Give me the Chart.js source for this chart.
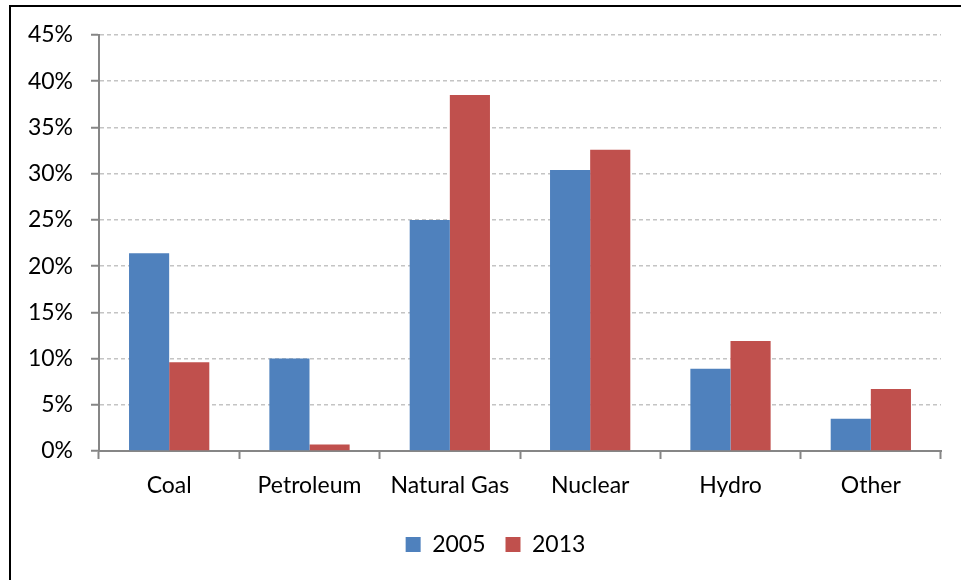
<!DOCTYPE html>
<html>
<head>
<meta charset="utf-8">
<script src="https://cdn.jsdelivr.net/npm/chart.js@4"></script>
<style>
  html, body { margin: 0; padding: 0; background: #fff; }
  #wrap { position: relative; width: 961px; height: 580px; overflow: hidden; }
  #frame { position: absolute; left: 9px; top: 5px; width: 1000px; height: 1000px; border: 2px solid #000; box-sizing: border-box; }
  canvas { position: absolute; left: 0; top: 0; }
</style>
</head>
<body>
<div id="wrap">
  <div id="frame"></div>
  <canvas id="fuentesChart" width="961" height="580"></canvas>
</div>
<script>
const categorias = ["Coal", "Petroleum", "Natural Gas", "Nuclear", "Hydro", "Other"];
const anos = ["2005", "2013"];
const valores2005 = [21.4, 10.0, 25.0, 30.4, 8.9, 3.5];
const valores2013 = [9.6, 0.7, 38.5, 32.6, 11.9, 6.7];
const cores = ["#4F81BD", "#C0504D"];

const fonte = { family: "Lato, 'Liberation Sans', sans-serif", size: 23 };

// the original legend sits a bit right of the canvas centre
const deslocaLegenda = {
  id: "deslocaLegenda",
  afterLayout(chart) {
    if (!chart.legend) return;
    chart.legend.left += 25;
    chart.legend.right += 25;
  },
};

const ctx = document.getElementById("fuentesChart");

new Chart(ctx.getContext("2d"), {
  type: "bar",
  data: {
    labels: categorias,
    datasets: [
      {
        label: anos[0],
        data: valores2005,
        backgroundColor: cores[0],
        categoryPercentage: 0.572,
        barPercentage: 1.0,
      },
      {
        label: anos[1],
        data: valores2013,
        backgroundColor: cores[1],
        categoryPercentage: 0.572,
        barPercentage: 1.0,
      },
    ],
  },
  options: {
    responsive: false,
    animation: false,
    layout: {
      padding: { top: 35, right: 20, left: 0, bottom: 14 },
    },
    scales: {
      x: {
        afterFit: (scale) => {
          scale.height = 62;
        },
        grid: {
          offset: true,
          drawOnChartArea: false,
          tickLength: 8,
          tickColor: "#868686",
          tickWidth: 2,
        },
        border: { color: "#868686", width: 2 },
        ticks: { color: "#000", font: fonte, padding: 13 },
      },
      y: {
        min: 0,
        max: 45,
        afterFit: (scale) => {
          scale.width = 99;
        },
        grid: {
          color: "#C4C4C4",
          lineWidth: 1.5,
          tickLength: 8,
          tickColor: "#868686",
          tickWidth: 2,
          tickBorderDash: [],
        },
        border: { color: "#868686", width: 2, dash: [4, 3] },
        ticks: {
          stepSize: 5,
          color: "#000",
          font: fonte,
          padding: 18,
          callback: (v) => v + "%",
        },
      },
    },
    plugins: {
      legend: {
        position: "bottom",
        labels: {
          color: "#000",
          font: fonte,
          boxWidth: 15,
          boxHeight: 15,
          padding: 20,
        },
      },
      tooltip: { enabled: false },
    },
  },
  plugins: [deslocaLegenda],
});
</script>
</body>
</html>
